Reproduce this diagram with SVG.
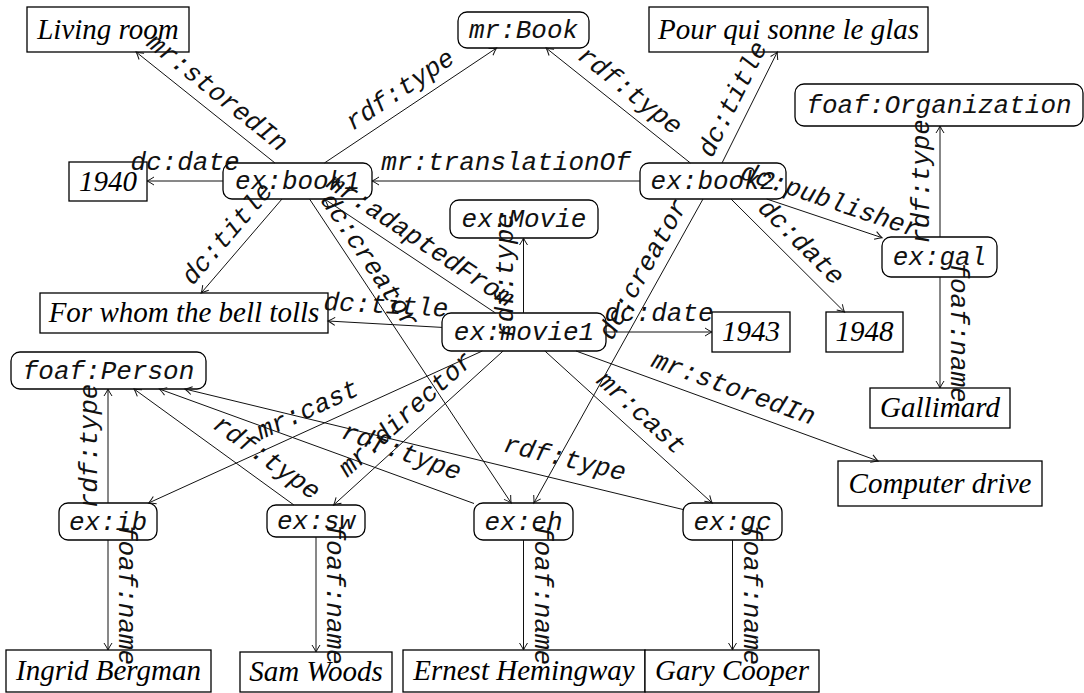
<svg xmlns="http://www.w3.org/2000/svg" width="1084" height="693" viewBox="0 0 1084 693">
<style>
.n rect{fill:#fff;stroke:#000;stroke-width:1.3}
.m{font-family:"Liberation Mono",monospace;font-style:italic;font-size:26px;text-anchor:middle;fill:#111}
.s{font-family:"Liberation Serif",serif;font-style:italic;font-size:29px;text-anchor:middle;fill:#000}
#edges line{stroke:#111;stroke-width:1;marker-end:url(#a)}
</style>
<defs>
<marker id="a" viewBox="-9 -6 11 12" refX="0" refY="0" markerWidth="11" markerHeight="12" markerUnits="userSpaceOnUse" orient="auto">
<path d="M-7,-4 Q-2.5,-1 0,0 Q-2.5,1 -7,4" fill="none" stroke="#111" stroke-width="1"/>
</marker>
</defs>
<rect width="1084" height="693" fill="#fff"/>
<g id="living" class="n"><rect x="27" y="7" width="162" height="45"/><text class="s" x="108" y="38.5">Living room</text></g>
<g id="mrBook" class="n"><rect x="458" y="12" width="131" height="36" rx="9"/><text class="m" x="523.5" y="38">mr:Book</text></g>
<g id="pour" class="n"><rect x="649" y="7" width="279" height="45"/><text class="s" x="788.5" y="38.5">Pour qui sonne le glas</text></g>
<g id="org" class="n"><rect x="795" y="84" width="288" height="42" rx="9"/><text class="m" x="939" y="113">foaf:Organization</text></g>
<g id="d1940" class="n"><rect x="69" y="162" width="78" height="39"/><text class="s" x="108" y="190.5">1940</text></g>
<g id="book1" class="n"><rect x="223" y="163" width="149" height="36" rx="9"/><text class="m" x="297.5" y="189">ex:book1</text></g>
<g id="book2" class="n"><rect x="640" y="163" width="146" height="36" rx="9"/><text class="m" x="713" y="189">ex:book2</text></g>
<g id="movieClass" class="n"><rect x="450" y="200" width="148" height="38" rx="9"/><text class="m" x="524" y="227">ex:Movie</text></g>
<g id="forwhom" class="n"><rect x="40" y="293" width="288" height="40"/><text class="s" x="184" y="322">For whom the bell tolls</text></g>
<g id="movie1" class="n"><rect x="442" y="313" width="164" height="38" rx="9"/><text class="m" x="524" y="340">ex:movie1</text></g>
<g id="d1943" class="n"><rect x="712" y="312" width="78" height="40"/><text class="s" x="751" y="341">1943</text></g>
<g id="d1948" class="n"><rect x="826" y="312" width="77" height="40"/><text class="s" x="864.5" y="341">1948</text></g>
<g id="gal" class="n"><rect x="882" y="237" width="115" height="40" rx="9"/><text class="m" x="939.5" y="265">ex:gal</text></g>
<g id="gallimard" class="n"><rect x="870" y="388" width="140" height="40"/><text class="s" x="940" y="417">Gallimard</text></g>
<g id="person" class="n"><rect x="11" y="352" width="195" height="37" rx="9"/><text class="m" x="108.5" y="378.5">foaf:Person</text></g>
<g id="drive" class="n"><rect x="838" y="461" width="204" height="45"/><text class="s" x="940" y="492.5">Computer drive</text></g>
<g id="ib" class="n"><rect x="59" y="503" width="98" height="37" rx="9"/><text class="m" x="108" y="529.5">ex:ib</text></g>
<g id="sw" class="n"><rect x="267" y="505" width="98" height="32" rx="9"/><text class="m" x="316" y="529">ex:sw</text></g>
<g id="eh" class="n"><rect x="474" y="503" width="99" height="37" rx="9"/><text class="m" x="523.5" y="529.5">ex:eh</text></g>
<g id="gc" class="n"><rect x="683" y="503" width="99" height="37" rx="9"/><text class="m" x="732.5" y="529.5">ex:gc</text></g>
<g id="ingrid" class="n"><rect x="6" y="650" width="205" height="42"/><text class="s" x="108.5" y="680">Ingrid Bergman</text></g>
<g id="sam" class="n"><rect x="240" y="652" width="152" height="40"/><text class="s" x="316" y="681">Sam Woods</text></g>
<g id="ernest" class="n"><rect x="403" y="650" width="242" height="42"/><text class="s" x="524" y="680">Ernest Hemingway</text></g>
<g id="gary" class="n"><rect x="645" y="650" width="174" height="42"/><text class="s" x="732" y="680">Gary Cooper</text></g>
<g id="edges">
<line x1="275" y1="163" x2="136.1" y2="52"/>
<text class="m" transform="translate(212.5,98.9) rotate(38.6)">mr:storedIn</text>
<line x1="324.4" y1="163" x2="496.6" y2="48"/>
<text class="m" transform="translate(404.4,96.4) rotate(-33.75)">rdf:type</text>
<line x1="690.4" y1="163" x2="546.1" y2="48"/>
<text class="m" transform="translate(625.1,96.9) rotate(38.55)">rdf:type</text>
<line x1="722" y1="163" x2="777.3" y2="52"/>
<text class="m" transform="translate(739.8,102.6) rotate(-63.5)">dc:title</text>
<line x1="640" y1="181" x2="372" y2="181"/>
<text class="m" x="506" y="170">mr:translationOf</text>
<line x1="223" y1="181" x2="147" y2="181"/>
<text class="m" x="185" y="170">dc:date</text>
<line x1="282" y1="199" x2="201.2" y2="293"/>
<text class="m" transform="translate(233.3,238.8) rotate(-49.3)">dc:title</text>
<line x1="309.5" y1="199" x2="511.2" y2="503"/>
<text class="m" transform="translate(363,265) rotate(56.4)">dc:creator</text>
<line x1="495.5" y1="313" x2="324.5" y2="199"/>
<text class="m" transform="translate(416.1,246.9) rotate(33.7)">mr:adaptedFrom</text>
<line x1="523.5" y1="313" x2="523.5" y2="238"/>
<text class="m" transform="translate(512.5,275.5) rotate(-90)">rdf:type</text>
<line x1="442" y1="327.4" x2="328" y2="321"/>
<text class="m" transform="translate(385.6,313.2) rotate(3.2)">dc:title</text>
<line x1="606" y1="332" x2="712" y2="332"/>
<text class="m" x="659" y="321">dc:date</text>
<line x1="703" y1="199" x2="533.8" y2="503"/>
<text class="m" transform="translate(650,273) rotate(-60.9)">dc:creator</text>
<line x1="766.7" y1="199" x2="882" y2="237.7"/>
<text class="m" transform="translate(827.9,208) rotate(18.55)">dc:publisher</text>
<line x1="731" y1="199" x2="844.5" y2="312"/>
<text class="m" transform="translate(795.6,247.7) rotate(44.9)">dc:date</text>
<line x1="940" y1="237" x2="940" y2="126"/>
<text class="m" transform="translate(929,181.5) rotate(-90)">rdf:type</text>
<line x1="940" y1="277" x2="940" y2="388"/>
<text class="m" transform="translate(951,332.5) rotate(90)">foaf:name</text>
<line x1="576" y1="351" x2="878.2" y2="461"/>
<text class="m" transform="translate(730.9,395.7) rotate(20)">mr:storedIn</text>
<line x1="544.9" y1="351" x2="712.2" y2="503"/>
<text class="m" transform="translate(635.9,418.9) rotate(42.3)">mr:cast</text>
<line x1="482.3" y1="351" x2="148.6" y2="503"/>
<text class="m" transform="translate(310.9,417) rotate(-24.5)">mr:cast</text>
<line x1="503.1" y1="351" x2="333.6" y2="505"/>
<text class="m" transform="translate(411,419.9) rotate(-42.3)">mr:director</text>
<line x1="108" y1="503" x2="108" y2="389"/>
<text class="m" transform="translate(97,446) rotate(-90)">rdf:type</text>
<line x1="293.9" y1="505" x2="134" y2="389"/>
<text class="m" transform="translate(262,464) rotate(35.96)">rdf:type</text>
<line x1="474" y1="503.5" x2="159.3" y2="389"/>
<text class="m" transform="translate(399,459) rotate(20)">rdf:type</text>
<line x1="683" y1="509.5" x2="184.9" y2="389"/>
<text class="m" transform="translate(563,466) rotate(13.6)">rdf:type</text>
<line x1="108" y1="540" x2="108" y2="650"/>
<text class="m" transform="translate(119,595) rotate(90)">foaf:name</text>
<line x1="316" y1="537" x2="316" y2="652"/>
<text class="m" transform="translate(327,594.5) rotate(90)">foaf:name</text>
<line x1="523.5" y1="540" x2="523.5" y2="650"/>
<text class="m" transform="translate(534.5,595) rotate(90)">foaf:name</text>
<line x1="732.5" y1="540" x2="732.5" y2="650"/>
<text class="m" transform="translate(743.5,595) rotate(90)">foaf:name</text>
</g>
</svg>
